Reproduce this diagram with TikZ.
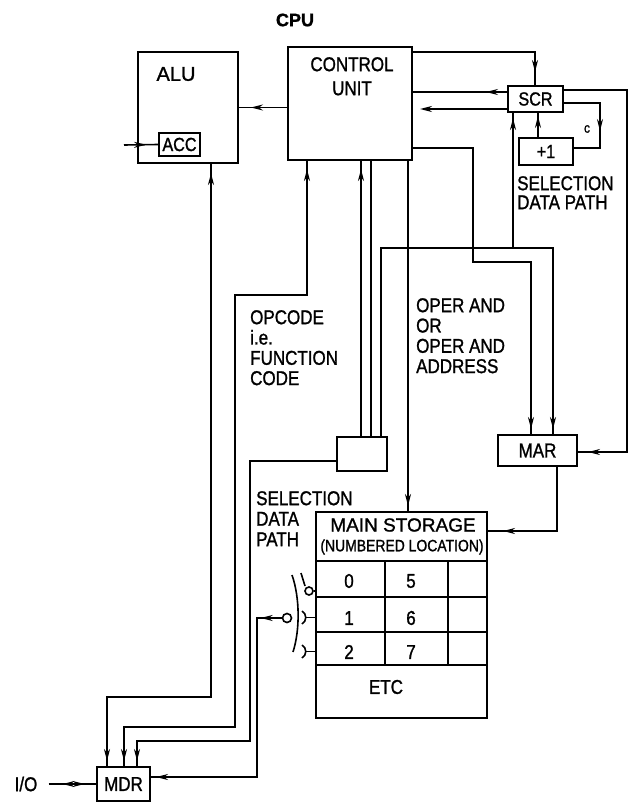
\documentclass[tikz,border=0pt]{standalone}
\usepackage{fontspec}
\setmainfont{Liberation Sans}[FakeBold=1.2]
\newfontfamily\lab{Liberation Sans}[FakeStretch=0.85,FakeBold=1.2]
\usetikzlibrary{arrows.meta,decorations.markings}
\begin{document}
\begin{tikzpicture}[x=1pt,y=-1pt,
  box/.style={draw,line width=2.1pt,inner sep=0pt},
  conn/.style={line width=1.6pt},
  grid/.style={line width=1.9pt},
  fwd/.style={postaction={decorate,decoration={markings,mark=at position #1 with {\arrow{Stealth[length=12pt,width=6pt]}}}}},
  bwd/.style={postaction={decorate,decoration={markings,mark=at position #1 with {\arrowreversed{Stealth[length=12pt,width=6pt]}}}}},
  lbl/.style={inner sep=0pt,font=\lab\fontsize{20}{20.3}\selectfont},
  ]
\useasboundingbox (0,0) rectangle (632,803);

% ---------- boxes and labels ----------
\node[lbl,font=\bfseries\fontsize{18}{18}\selectfont] (cpu) at (295,20) {CPU};

\node[box,minimum width=100pt,minimum height=111pt] (alu) at (188,107.5) {};
\node[lbl,font=\fontsize{20}{20}\selectfont] (alut) at (176,74) {ALU};
\node[box,lbl,font=\lab\fontsize{19}{19}\selectfont,minimum width=41pt,minimum height=23pt] (acc) at (179.5,144.5) {ACC};

\node[box,minimum width=124pt,minimum height=113pt] (cu) at (350,103.5) {};
\node[lbl,align=center,anchor=north,font=\lab\fontsize{20}{24}\selectfont] (cut) at (352,57) {CONTROL\\UNIT};

\node[box,lbl,font=\lab\fontsize{19}{19}\selectfont,minimum width=55pt,minimum height=26pt] (scr) at (535.5,99) {SCR};
\node[box,lbl,font=\lab\fontsize{19}{19}\selectfont,minimum width=54pt,minimum height=27pt] (plus) at (546,151.5) {+1};
\node[lbl,font=\lab\fontsize{14}{14}\selectfont] (cc) at (587,129) {c};
\node[lbl,align=left,anchor=north west,font=\lab\fontsize{20}{19}\selectfont] (sdp1) at (517,176) {SELECTION\\DATA PATH};

\node[lbl,align=left,anchor=north west] (opc) at (250,310) {OPCODE\\i.e.\\FUNCTION\\CODE};
\node[lbl,align=left,anchor=north west] (oper) at (416,298) {OPER AND\\OR\\OPER AND\\ADDRESS};
\node[lbl,align=left,anchor=north west,font=\lab\fontsize{20}{20.5}\selectfont] (sdp2) at (256,491) {SELECTION\\DATA\\PATH};

\node[box,lbl,minimum width=79pt,minimum height=31pt] (mar) at (537.5,450.5) {MAR};
\node[box,minimum width=50pt,minimum height=34pt] (sbox) at (362,454) {};

% main storage
\node[box,minimum width=171pt,minimum height=206pt] (ms) at (401.5,615) {};
\draw[grid] (316,561) -- (487,561);
\draw[grid] (316,597) -- (487,597);
\draw[grid] (316,632) -- (487,632);
\draw[grid] (316,665) -- (487,665);
\draw[grid] (385,561) -- (385,665);
\draw[grid] (448,561) -- (448,665);
\node[lbl,font=\fontsize{19}{19}\selectfont] (mst) at (403,525) {MAIN STORAGE};
\node[lbl,font=\lab\fontsize{16.4}{17}\selectfont] (msn) at (402,547) {(NUMBERED LOCATION)};
\node[lbl] (d0) at (349,581) {0};
\node[lbl] (d5) at (411,581) {5};
\node[lbl] (d1) at (349,618) {1};
\node[lbl] (d6) at (411,618) {6};
\node[lbl] (d2) at (349,652) {2};
\node[lbl] (d7) at (411,652) {7};
\node[lbl] (etc) at (386,687) {ETC};

\node[box,lbl,minimum width=53pt,minimum height=34pt] (mdr) at (123.5,784) {MDR};
\node[lbl,inner xsep=11pt] (io) at (26,784) {I/O};

% ---------- switch ----------
\node[circle,draw,line width=1.6pt,inner sep=0pt,minimum size=8pt] (c0) at (309,591) {};
\draw[conn] (c0.east) -- (ms.west |- c0.east);
\draw[conn] (301,573) -- (305,586);
\draw[conn] (302,611) .. controls (307,614) and (307,621) .. (302,624);
\draw[conn] (306,617.5) -- (316,617.5);
\draw[conn] (302,645) .. controls (307,648) and (307,655) .. (302,658);
\draw[conn] (306,651.5) -- (316,651.5);
\draw[conn] (292,575) .. controls (300,598) and (300,630) .. (293,652);
\node[circle,draw,line width=1.6pt,inner sep=0pt,minimum size=9pt] (piv) at (287,618) {};

% ---------- coordinates ----------
\coordinate (accin) at (124,145);
\coordinate (p1) at (211,697);
\coordinate (p1b) at (107,697);
\coordinate (q1) at (307,295);
\coordinate (q2) at (235,295);
\coordinate (q3) at (235,727);
\coordinate (q4) at (124,727);
\coordinate (s1) at (250,461);
\coordinate (s2) at (250,741);
\coordinate (s3) at (137,741);
\coordinate (c1) at (361,300);
\coordinate (c2) at (371,300);
\coordinate (o1) at (408,300);
\coordinate (t1) at (535,52);
\coordinate (r1) at (460,92);
\coordinate (r2) at (420,109);
\coordinate (l1) at (600,103);
\coordinate (l2) at (600,148);
\coordinate (m1) at (538,125);
\coordinate (g1) at (627,90);
\coordinate (g2) at (627,452);
\coordinate (h0) at (381,248);
\coordinate (h1) at (513,248);
\coordinate (h2) at (553,248);
\coordinate (k1) at (473,148);
\coordinate (k2) at (473,262);
\coordinate (k3) at (531,262);
\coordinate (n1) at (557,531);
\coordinate (w1) at (257,618);
\coordinate (w2) at (257,777);

% ---------- connectors ----------
\draw[conn,fwd=36pt] (cu.west |- alu.east) -- (alu.east);
\draw[conn,fwd=22pt] (accin) -- (acc.west);
\draw[conn,bwd=9pt,fwd=-5pt] (alu.south -| p1) -- (p1) -- (p1b) -- (mdr.north -| p1b);
\draw[conn,bwd=8pt,fwd=-5pt] (cu.south -| q1) -- (q1) -- (q2) -- (q3) -- (q4) -- (mdr.north -| q4);
\draw[conn,fwd=-5pt] (sbox.west |- s1) -- (s1) -- (s2) -- (s3) -- (mdr.north -| s3);
\draw[conn,bwd=8pt] (cu.south -| c1) -- (sbox.north -| c1);
\draw[conn] (cu.south -| c2) -- (sbox.north -| c2);
\draw[conn,fwd=-5pt] (cu.south -| o1) -- (ms.north -| o1);
\draw[conn,fwd=-13pt] (cu.east |- t1) -- (t1) -- (scr.north -| t1);
\draw[conn,fwd=21pt] (scr.west |- r1) -- (cu.east |- r1);
\draw[conn,-{Stealth[length=12pt,width=6pt]}] (scr.west |- r2) -- (r2);
\draw[conn,fwd=64pt] (scr.east |- l1) -- (l1) -- (l2) -- (plus.east |- l2);
\draw[conn,fwd=21pt] (plus.north -| m1) -- (scr.south -| m1);
\draw[conn,fwd=-10pt] (scr.east |- g1) -- (g1) -- (g2) -- (mar.east |- g2);
\draw[conn,fwd=-5pt] (sbox.north -| h0) -- (h0) -- (h2) -- (mar.north -| h2);
\draw[conn,fwd=-5pt] (h1) -- (scr.south -| h1);
\draw[conn,fwd=-5pt] (cu.east |- k1) -- (k1) -- (k2) -- (k3) -- (mar.north -| k3);
\draw[conn,fwd=-15pt] (mar.south -| n1) -- (n1) -- (ms.east |- n1);
\draw[conn,fwd=21pt,fwd=-5pt] (piv.west) -- (w1) -- (w2) -- (mdr.east |- w2);
\draw[conn,bwd=14pt,fwd=36pt] (io.east) -- (mdr.west);
\end{tikzpicture}
\end{document}
